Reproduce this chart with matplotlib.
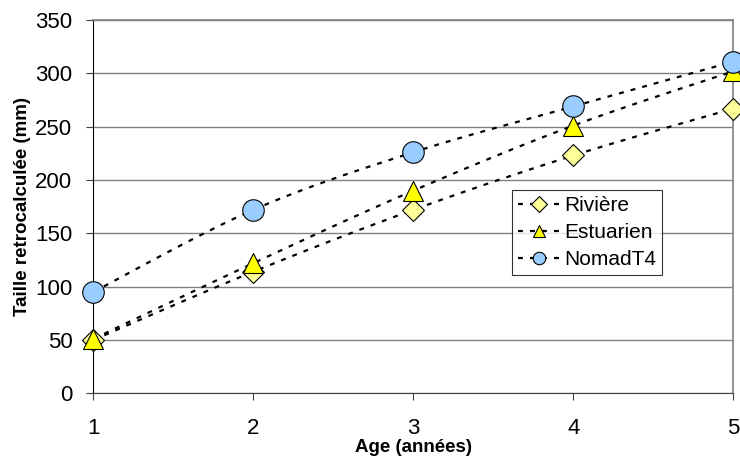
import matplotlib
matplotlib.use("Agg")
import matplotlib.pyplot as plt
import numpy as np
from matplotlib.lines import Line2D

# data
ages = [1, 2, 3, 4, 5]
riviere = [50, 114, 172, 223, 267]
estuarien = [51, 122, 190, 251, 302]
nomad = [95, 172, 226, 269, 311]

names = ["Rivière", "Estuarien", "NomadT4"]
yticks = [0, 50, 100, 150, 200, 250, 300, 350]

plt.rcParams['font.family'] = ['Liberation Sans', 'DejaVu Sans']


def smooth(xs, ys, n=30):
    # excel-like smoothed line (catmull-rom through the points)
    xs = np.asarray(xs, float)
    ys = np.asarray(ys, float)
    px = np.concatenate([[xs[0]], xs, [xs[-1]]])
    py = np.concatenate([[ys[0]], ys, [ys[-1]]])
    outx, outy = [], []
    for i in range(1, len(px) - 2):
        p0x, p1x, p2x, p3x = px[i - 1], px[i], px[i + 1], px[i + 2]
        p0y, p1y, p2y, p3y = py[i - 1], py[i], py[i + 1], py[i + 2]
        c1x = p1x + (p2x - p0x) / 6
        c1y = p1y + (p2y - p0y) / 6
        c2x = p2x - (p3x - p1x) / 6
        c2y = p2y - (p3y - p1y) / 6
        t = np.linspace(0, 1, n)
        outx.append((1-t)**3*p1x + 3*(1-t)**2*t*c1x + 3*(1-t)*t**2*c2x + t**3*p2x)
        outy.append((1-t)**3*p1y + 3*(1-t)**2*t*c1y + 3*(1-t)*t**2*c2y + t**3*p2y)
    return np.concatenate(outx), np.concatenate(outy)


fig = plt.figure(figsize=(7.4, 4.62), dpi=100)
ax = fig.add_axes([0.1261, 0.1487, 0.8649, 0.808])

dots = (0, (2.2, 3.2))
styles = [
    dict(marker='D', ms=11.5, mfc='#FFFF99'),
    dict(marker='^', ms=15, mfc='#FFFF00'),
    dict(marker='o', ms=15.5, mfc='#99CCFF'),
]
series = [riviere, estuarien, nomad]

handles = []
for name, ys, st in zip(names, series, styles):
    sx, sy = smooth(ages, ys)
    ax.plot(sx, sy, color='black', lw=1.6, ls=dots, zorder=3)
    ax.plot(ages, ys, ls='none', marker=st['marker'], ms=st['ms'],
            mfc=st['mfc'], mec='black', mew=0.8, zorder=4, clip_on=False)
    handles.append(Line2D([], [], color='black', lw=1.6, ls=dots,
                          marker=st['marker'], ms=9 if st['marker'] != 'D' else 8,
                          mfc=st['mfc'], mec='black', mew=0.8))

ax.set_xlim(1, 5)
ax.set_ylim(0, 350)
ax.set_xticks(ages)
ax.set_yticks(yticks)
ax.yaxis.grid(True, color='#808080', lw=1)
ax.set_axisbelow(True)

for s in ['top', 'right']:
    ax.spines[s].set_color('#808080')
    ax.spines[s].set_linewidth(1.2)
ax.spines['left'].set_color('black')
ax.spines['bottom'].set_color('#404040')

ax.tick_params(axis='both', labelsize=16, direction='out', length=5, color='#404040')
ax.tick_params(axis='x', pad=13)
ax.tick_params(axis='y', pad=10)

ax.set_xlabel('Age (années)', fontsize=13.5, fontweight='bold', labelpad=0)
ax.set_ylabel('Taille retrocalculée (mm)', fontsize=13.5, fontweight='bold', labelpad=3)

leg = ax.legend(handles, names, loc='upper left', bbox_to_anchor=(0.654, 0.545),
                fontsize=15, frameon=True, fancybox=False, handlelength=2.0,
                handletextpad=0.2, borderpad=0.3, labelspacing=0.38,
                borderaxespad=0)
leg.get_frame().set_edgecolor('black')
leg.get_frame().set_linewidth(0.8)

fig.savefig('out.png', dpi=100)
